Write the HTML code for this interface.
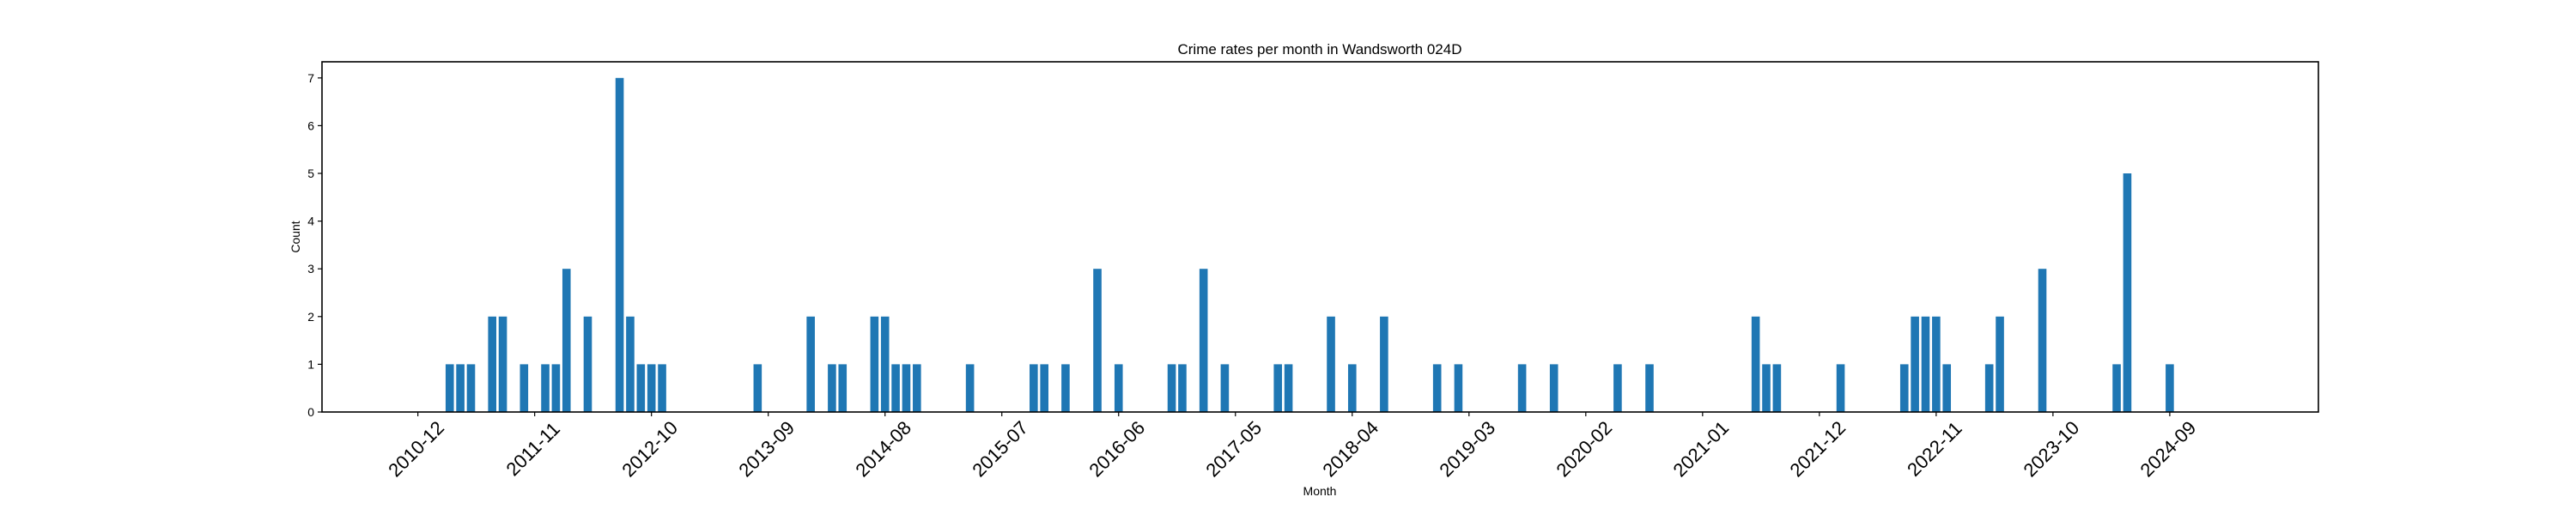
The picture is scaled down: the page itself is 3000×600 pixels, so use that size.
<!DOCTYPE html>
<html><head><meta charset="utf-8">
<style>
html,body{margin:0;padding:0;background:#fff;}
svg{display:block;font-family:"Liberation Sans","DejaVu Sans",sans-serif;}
</style></head>
<body>
<svg id="chart" width="3000" height="600" viewBox="0 0 3000 600" xmlns="http://www.w3.org/2000/svg">
<rect width="3000" height="600" fill="#fff"/>
<text x="1537" y="63" font-size="17" text-anchor="middle" fill="#000">Crime rates per month in Wandsworth 024D</text>
<text x="0" y="0" font-size="14" text-anchor="middle" fill="#000" transform="translate(349,276) rotate(-90)">Count</text>
<text x="1537" y="577" font-size="14" text-anchor="middle" fill="#000">Month</text>
<g id="bars"></g>
<g id="yticks"></g>
<g id="xticks"></g>
<rect x="375" y="72" width="2325" height="408" fill="none" stroke="#000" stroke-width="1.6"/>
</svg>
<script>
const months = ["2011-03","2011-04","2011-05","2011-07","2011-08","2011-10","2011-12","2012-01","2012-02","2012-04","2012-07","2012-08","2012-09","2012-10","2012-11","2013-08","2014-01","2014-03","2014-04","2014-07","2014-08","2014-09","2014-10","2014-11","2015-04","2015-10","2015-11","2016-01","2016-04","2016-06","2016-11","2016-12","2017-02","2017-04","2017-09","2017-10","2018-02","2018-04","2018-07","2018-12","2019-02","2019-08","2019-11","2020-05","2020-08","2021-06","2021-07","2021-08","2022-02","2022-08","2022-09","2022-10","2022-11","2022-12","2023-04","2023-05","2023-09","2024-04","2024-05","2024-09"];
const counts = [1,1,1,2,2,1,1,1,3,2,7,2,1,1,1,1,2,1,1,2,2,1,1,1,1,1,1,1,3,1,1,1,3,1,1,1,2,1,2,1,1,1,1,1,1,2,1,1,1,1,2,2,2,1,1,2,3,1,5,1];
const xTickLabels = ["2010-12","2011-11","2012-10","2013-09","2014-08","2015-07","2016-06","2017-05","2018-04","2019-03","2020-02","2021-01","2021-12","2022-11","2023-10","2024-09"];
const yTickValues = [0,1,2,3,4,5,6,7];

const NS = "http://www.w3.org/2000/svg";
const L = 375, R = 2700, T = 72, B = 480;
const m0 = -9.03, m1 = 179.0;
function monthIndex(s){ const p = s.split("-"); return (+p[0]-2010)*12 + (+p[1]) - 12; }
function xScale(s){ return L + (monthIndex(s) - m0) / (m1 - m0) * (R - L); }
function yScale(v){ return B - v * 55.6; }
const barW = 9.6;

const gb = document.getElementById("bars");
months.forEach((m, i) => {
  const r = document.createElementNS(NS, "rect");
  const x = xScale(m), y = yScale(counts[i]);
  r.setAttribute("x", x - barW/2);
  r.setAttribute("y", y);
  r.setAttribute("width", barW);
  r.setAttribute("height", B - y);
  r.setAttribute("fill", "#1f77b4");
  
  
  gb.appendChild(r);
});

const gy = document.getElementById("yticks");
yTickValues.forEach(v => {
  const y = yScale(v);
  const ln = document.createElementNS(NS, "line");
  ln.setAttribute("x1", L - 5); ln.setAttribute("x2", L);
  ln.setAttribute("y1", y); ln.setAttribute("y2", y);
  ln.setAttribute("stroke", "#000"); ln.setAttribute("stroke-width", "1.2");
  
  
  gy.appendChild(ln);
  const t = document.createElementNS(NS, "text");
  t.setAttribute("x", L - 9); t.setAttribute("y", y + 5);
  t.setAttribute("font-size", "14"); t.setAttribute("text-anchor", "end");
  t.textContent = v;
  
  
  gy.appendChild(t);
});

const gx = document.getElementById("xticks");
xTickLabels.forEach(lbl => {
  const x = xScale(lbl);
  const ln = document.createElementNS(NS, "line");
  ln.setAttribute("x1", x); ln.setAttribute("x2", x);
  ln.setAttribute("y1", B); ln.setAttribute("y2", B + 5);
  ln.setAttribute("stroke", "#000"); ln.setAttribute("stroke-width", "1.2");
  
  
  gx.appendChild(ln);
  const t = document.createElementNS(NS, "text");
  t.setAttribute("x", 0); t.setAttribute("y", 0);
  t.setAttribute("font-size", "22"); t.setAttribute("text-anchor", "middle");
  t.setAttribute("dominant-baseline", "central");
  t.setAttribute("transform", "translate(" + (x - 2) + "," + (B + 43) + ") rotate(-45)");
  t.textContent = lbl;
  
  
  gx.appendChild(t);
});
</script>
</body></html>
